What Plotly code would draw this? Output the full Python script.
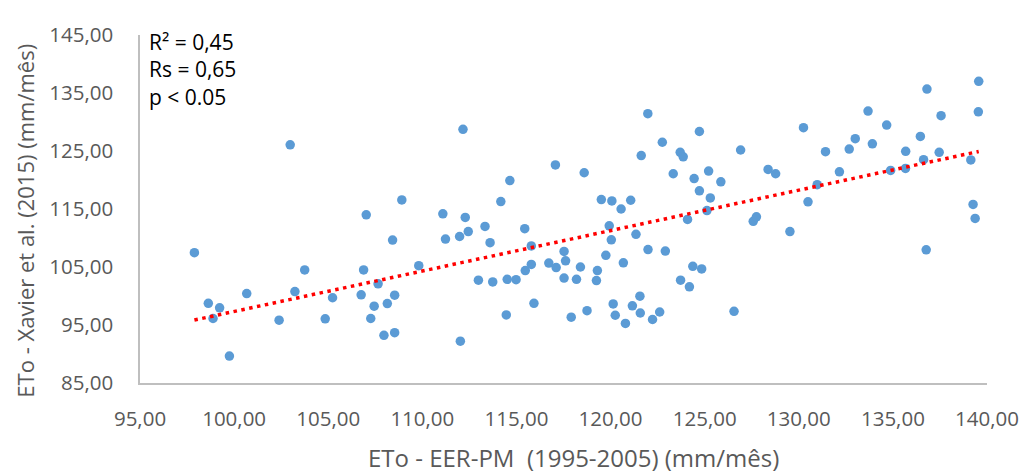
import numpy as np
import plotly.graph_objects as go

# ETo EER-PM (x) vs ETo Xavier et al. (y), mm/mes
eto_eer = [97.89, 98.63, 98.88, 99.23, 99.75, 100.67, 102.39, 102.98, 103.23, 103.75,
           104.84, 105.23, 106.75, 106.88, 107.02, 107.26, 107.44, 107.65, 107.96, 108.14,
           108.42, 108.53, 108.53, 108.91, 109.81, 111.09, 111.23, 111.98, 112.02, 112.16,
           112.28, 112.44, 112.98, 113.33, 113.60, 113.74, 114.17, 114.46, 114.51, 114.65,
           114.98, 115.44, 115.47, 115.79, 115.79, 115.93, 116.72, 117.07, 117.11, 117.53,
           117.61, 117.53, 117.91, 118.19, 118.40, 118.60, 118.75, 119.25, 119.30, 119.51,
           119.75, 119.93, 120.04, 120.07, 120.14, 120.25, 120.56, 120.68, 120.79, 121.07,
           121.16, 121.35, 121.56, 121.58, 121.63, 121.98, 121.99, 122.23, 122.61, 122.75,
           122.91, 123.33, 123.70, 123.86, 123.72, 124.09, 124.19, 124.37, 124.44, 124.72,
           124.72, 124.84, 125.12, 125.21, 125.30, 125.86, 126.56, 126.91, 127.58, 127.75,
           128.37, 128.77, 129.53, 130.25, 130.49, 130.98, 131.42, 132.16, 132.68, 133.00,
           133.68, 133.91, 134.67, 134.88, 135.68, 135.67, 136.46, 136.63, 136.77, 136.81,
           137.46, 137.56, 139.14, 139.26, 139.37, 139.54, 139.56]
eto_xavier = [107.46, 98.74, 96.12, 97.96, 89.64, 100.42, 95.84, 126.06, 100.76, 104.50,
              96.06, 99.70, 100.20, 104.50, 114.00, 96.12, 98.24, 102.10, 93.22, 98.69,
              109.64, 100.14, 93.67, 116.56, 105.23, 114.16, 109.81, 110.26, 92.21, 128.74,
              113.55, 111.10, 102.72, 111.99, 109.19, 102.43, 116.29, 96.73, 102.88, 119.91,
              102.82, 111.60, 104.39, 108.63, 105.45, 98.74, 105.67, 122.60, 104.90, 107.68,
              106.07, 103.10, 96.35, 102.88, 105.00, 121.25, 97.46, 102.66, 104.39, 116.63,
              107.01, 112.10, 109.69, 116.39, 98.63, 96.68, 115.00, 105.73, 95.28, 116.51,
              98.30, 110.64, 99.97, 97.07, 124.22, 131.43, 108.01, 95.95, 97.24, 126.51,
              107.74, 121.08, 124.77, 124.00, 102.72, 113.21, 101.59, 105.11, 120.25, 128.36,
              118.13, 104.67, 114.72, 121.54, 116.90, 119.69, 97.35, 125.17, 112.87, 113.66,
              121.82, 121.08, 111.10, 129.03, 116.23, 119.19, 124.89, 121.41, 125.34, 127.12,
              131.88, 126.23, 129.47, 121.65, 124.94, 121.99, 127.52, 123.50, 107.96, 135.67,
              124.77, 131.09, 123.46, 115.79, 113.38, 131.76, 137.01]

stats_lines = ["R² = 0,45", "Rs = 0,65", "p < 0.05"]
x_title = "ETo - EER-PM\u00a0 (1995-2005) (mm/mês)"
y_title = "ETo - Xavier et al. (2015) (mm/mês)"

x = np.array(eto_eer)
y = np.array(eto_xavier)
slope, intercept = np.polyfit(x, y, 1)
x_fit = np.array([x.min(), x.max()])
y_fit = slope * x_fit + intercept

grey = "#595959"
font_name = "Open Sans, Calibri, sans-serif"

fig = go.Figure()
fig.add_trace(go.Scatter(
    x=eto_eer, y=eto_xavier, mode="markers",
    marker=dict(color="#5B9BD5", size=9.5),
    showlegend=False, hoverinfo="x+y",
))
fig.add_trace(go.Scatter(
    x=x_fit, y=y_fit, mode="lines",
    line=dict(color="#FF0000", width=3.5, dash="3.5px,4.5px"),
    showlegend=False, hoverinfo="skip",
))

# r2 / rs / p text box, top left of plot
fig.add_annotation(
    xref="paper", yref="paper", x=0.008, y=1.027, xanchor="left", yanchor="top",
    text="<br>".join(stats_lines), showarrow=False, align="left",
    font=dict(family=font_name, size=21, color="#000000"),
)
# axis titles as annotations so they sit where excel put them
fig.add_annotation(
    xref="paper", yref="paper", x=0.512, y=-0.215, xanchor="center", yanchor="middle",
    text=x_title, showarrow=False,
    font=dict(family=font_name, size=24, color=grey),
)
fig.add_annotation(
    xref="paper", yref="paper", x=-0.136, y=0.466, xanchor="center", yanchor="middle",
    text=y_title, showarrow=False, textangle=-90,
    font=dict(family=font_name, size=22, color=grey),
)

# page body has an 8px margin, so the figure is drawn a bit smaller
fig.update_layout(
    width=1023, height=466,
    margin=dict(l=132, r=36, t=17, b=91),
    paper_bgcolor="white", plot_bgcolor="white",
    separators=",.",
    font=dict(family=font_name, size=20, color=grey),
)
fig.update_xaxes(
    range=[95, 140], tick0=95, dtick=5, tickformat=".2f",
    showgrid=False, zeroline=False,
    showline=True, linecolor="#BFBFBF", linewidth=1.5,
    ticks="", ticklabelstandoff=17,
    tickfont=dict(size=20.5, color=grey),
)
fig.update_yaxes(
    range=[85, 145], tick0=85, dtick=10, tickformat=".2f",
    showgrid=False, zeroline=False,
    showline=True, linecolor="#BFBFBF", linewidth=1.5,
    ticks="", ticklabelstandoff=21,
    tickfont=dict(size=20.5, color=grey),
)

fig.write_html("out.html")
